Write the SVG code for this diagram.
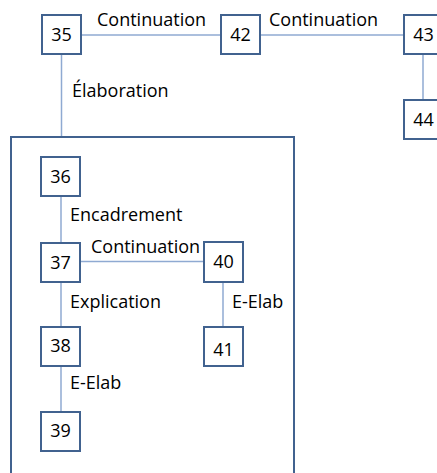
<svg xmlns="http://www.w3.org/2000/svg" width="437" height="473" viewBox="0 0 437 473">
<style>
.box{fill:#fff;stroke:#41628F;stroke-width:2}
.con{stroke:#8FAAD2;stroke-width:1.5;fill:none}
text{font-family:"Open Sans","Liberation Sans",sans-serif;font-size:18px;fill:#000}
.num{text-anchor:middle}
</style>
<rect width="437" height="473" fill="#fff"/>
<g id="connectors">
<line class="con" x1="81" y1="35" x2="221" y2="35"/>
<line class="con" x1="260" y1="35" x2="404" y2="35"/>
<line class="con" x1="423" y1="54" x2="423" y2="100"/>
<line class="con" x1="61.5" y1="54" x2="61.5" y2="137"/>
<line class="con" x1="61" y1="196" x2="61" y2="243"/>
<line class="con" x1="80" y1="261.5" x2="204" y2="261.5"/>
<line class="con" x1="61" y1="282" x2="61" y2="327"/>
<line class="con" x1="223" y1="282" x2="223" y2="327"/>
<line class="con" x1="61" y1="366" x2="61" y2="411"/>
<text x="97" y="26">Continuation</text>
<text x="269" y="26">Continuation</text>
<text x="72" y="97">Élaboration</text>
<text x="70" y="221">Encadrement</text>
<text x="91" y="253">Continuation</text>
<text x="70" y="308">Explication</text>
<text x="232" y="308">E-Elab</text>
<text x="70" y="389">E-Elab</text>
</g>
<g id="container"><rect x="11" y="137" width="283" height="345" fill="none" stroke="#41628F" stroke-width="2"/></g>
<g id="n35"><rect class="box" x="42" y="15" width="39" height="39"/><text class="num" x="61.5" y="41">35</text></g>
<g id="n42"><rect class="box" x="221" y="15" width="39" height="39"/><text class="num" x="240.5" y="41">42</text></g>
<g id="n43"><rect class="box" x="404" y="15" width="39" height="39"/><text class="num" x="423.5" y="41">43</text></g>
<g id="n44"><rect class="box" x="404" y="100" width="39" height="39"/><text class="num" x="423.5" y="126">44</text></g>
<g id="n36"><rect class="box" x="41" y="157" width="39" height="39"/><text class="num" x="60.5" y="183">36</text></g>
<g id="n37"><rect class="box" x="41" y="243" width="39" height="39"/><text class="num" x="60.5" y="269">37</text></g>
<g id="n40"><rect class="box" x="204" y="242" width="39" height="40"/><text class="num" x="223.5" y="268">40</text></g>
<g id="n38"><rect class="box" x="41" y="327" width="39" height="39"/><text class="num" x="60.5" y="352">38</text></g>
<g id="n41"><rect class="box" x="204" y="327" width="39" height="39"/><text class="num" x="223.5" y="356">41</text></g>
<g id="n39"><rect class="box" x="41" y="412" width="39" height="39"/><text class="num" x="60.5" y="437">39</text></g>
</svg>
